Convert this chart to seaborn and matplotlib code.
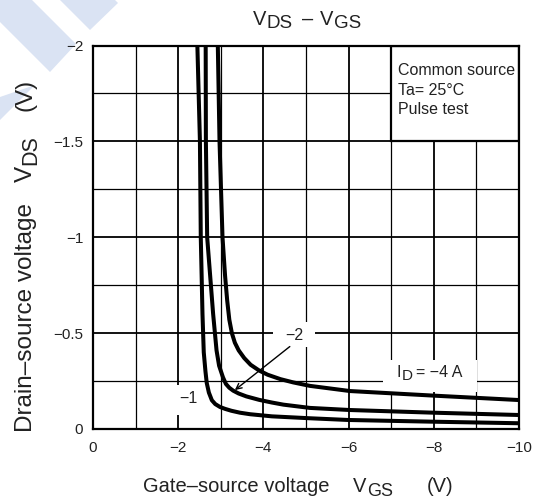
import numpy as np
import pandas as pd
import matplotlib
matplotlib.use("Agg")
import matplotlib.pyplot as plt
from matplotlib.patches import Polygon, Rectangle
from matplotlib.ticker import MultipleLocator
import seaborn as sns

# V_DS - V_GS characteristics, one curve per drain current
vgs_id1 = [-2.45, -2.51, -2.53, -2.57, -2.60, -2.64, -2.67, -2.72, -2.79, -2.87, -2.98,
           -3.10, -3.25, -3.45, -3.69, -4.20, -5.09, -6.00, -8.00, -10.0]
vds_id1 = [-2.00, -1.50, -1.00, -0.60, -0.40, -0.30, -0.24, -0.19, -0.15, -0.13, -0.115,
           -0.105, -0.095, -0.085, -0.077, -0.066, -0.056, -0.047, -0.038, -0.030]

vgs_id2 = [-2.645, -2.65, -2.68, -2.82, -2.90, -2.96, -3.05, -3.12, -3.20, -3.29, -3.42,
           -3.60, -3.90, -4.20, -4.47, -5.09, -6.03, -8.00, -10.0]
vds_id2 = [-2.00, -1.50, -1.00, -0.60, -0.41, -0.33, -0.27, -0.235, -0.215, -0.20, -0.185,
           -0.17, -0.152, -0.138, -0.127, -0.110, -0.099, -0.085, -0.073]

vgs_id4 = [-2.93, -2.97, -3.04, -3.10, -3.15, -3.20, -3.26, -3.33, -3.42, -3.55, -3.70,
           -3.90, -4.10, -4.40, -4.70, -5.09, -6.03, -8.00, -10.0]
vds_id4 = [-2.00, -1.50, -1.00, -0.80, -0.67, -0.57, -0.50, -0.45, -0.41, -0.37, -0.335,
           -0.305, -0.283, -0.260, -0.243, -0.225, -0.198, -0.174, -0.151]

drain_currents = ["-1", "-2", "-4"]
x_ticks = [0, -2, -4, -6, -8, -10]
x_tick_labels = ["0", "\u22122", "\u22124", "\u22126", "\u22128", "\u221210"]
y_ticks = [0, -0.5, -1, -1.5, -2]
y_tick_labels = ["0", "\u22120.5", "\u22121", "\u22121.5", "\u22122"]

frames = []
for cur, xs, ys in zip(drain_currents,
                       [vgs_id1, vgs_id2, vgs_id4],
                       [vds_id1, vds_id2, vds_id4]):
    frames.append(pd.DataFrame({"VGS": xs, "VDS": ys, "ID": cur}))
df = pd.concat(frames, ignore_index=True)

sns.set_style("white")
plt.rcParams["font.family"] = ["Liberation Sans", "DejaVu Sans"]

INK = "#222222"
W, H = 538, 500
fig = plt.figure(figsize=(W / 100, H / 100), dpi=100)
fig.patch.set_facecolor("white")
renderer = fig.canvas.get_renderer()


def fx(px):
    return px / W


def fy(py):
    return 1 - py / H


def sub_label(x, y, main, sub, size, sub_size, drop, rotation=0):
    """Write `main` followed by a lowered `sub`, starting at pixel (x, y) on the baseline."""
    if rotation == 0:
        t = fig.text(fx(x), fy(y), main, fontsize=size, ha="left", va="baseline",
                     color=INK)
        w = t.get_window_extent(renderer).width
        fig.text(fx(x + w + 0.5), fy(y + drop), sub, fontsize=sub_size, ha="left",
                 va="baseline", color=INK)
    else:
        t = fig.text(fx(x), fy(y), main, fontsize=size, ha="left", va="baseline",
                     rotation=90, rotation_mode="anchor", color=INK)
        h = t.get_window_extent(renderer).height
        fig.text(fx(x + drop), fy(y - h - 0.5), sub, fontsize=sub_size, ha="left",
                 va="baseline", rotation=90, rotation_mode="anchor", color=INK)


# light blue decorative stripes in the upper-left corner
stripe_color = "#dae3f3"
for pts in ([(0, 0), (32, 0), (76, 44), (50, 72), (0, 22)],
            [(60, 0), (115, 0), (118, 3), (90, 30)],
            [(0, 97), (35, 85), (0, 120)]):
    fig.add_artist(Polygon([(fx(x), fy(y)) for x, y in pts], closed=True,
                           transform=fig.transFigure, facecolor=stripe_color,
                           edgecolor="none", zorder=0))

ax = fig.add_axes([fx(93), fy(429), fx(519) - fx(93), fy(45.5) - fy(429)])
ax.set_facecolor("white")

sns.lineplot(data=df, x="VGS", y="VDS", hue="ID", palette=["black"] * 3,
             sort=False, estimator=None, legend=False, ax=ax,
             linewidth=2.9, zorder=3)
for ln in ax.get_lines():
    ln.set_solid_capstyle("butt")
    ln.set_solid_joinstyle("round")

ax.set_xlim(0, -10)
ax.set_ylim(0, -2)
ax.xaxis.set_minor_locator(MultipleLocator(1))
ax.yaxis.set_minor_locator(MultipleLocator(0.25))
ax.set_xticks(x_ticks)
ax.set_xticklabels(x_tick_labels)
ax.set_yticks(y_ticks)
ax.set_yticklabels(y_tick_labels)
ax.set_axisbelow(True)
ax.grid(which="major", color="black", linewidth=1.3)
ax.grid(which="minor", color="black", linewidth=0.9)
ax.tick_params(which="major", length=2, width=1, color="black",
               labelsize=11, labelcolor=INK)
ax.tick_params(axis="x", which="major", length=0, pad=9)
ax.tick_params(axis="y", which="major", pad=5)
ax.tick_params(which="minor", length=0)
for sp in ax.spines.values():
    sp.set_visible(True)
    sp.set_color("black")
    sp.set_linewidth(1.6)
ax.set_xlabel("")
ax.set_ylabel("")

# condition box in the upper-right cell block
ax.add_patch(Rectangle((-7, -2), -3, 0.5, facecolor="white", edgecolor="black",
                       linewidth=1.6, zorder=2.5))
for txt, yv in (("Common source", -1.872), ("Ta= 25\u00b0C", -1.763),
                ("Pulse test", -1.664)):
    ax.text(-7.16, yv, txt, ha="left", va="center", fontsize=11.5,
            color=INK, zorder=4)

# white patches that clear the grid behind the curve labels
for x0, x1, y0, y1 in ((-1.95, -2.50, -0.073, -0.229),
                       (-4.23, -5.21, -0.428, -0.558),
                       (-6.81, -9.01, -0.193, -0.360)):
    ax.add_patch(Rectangle((x0, y0), x1 - x0, y1 - y0, facecolor="white",
                           edgecolor="none", zorder=1.5))

ax.text(-2.25, -0.157, "\u22121", ha="center", va="center", fontsize=11.5,
        color=INK, zorder=2)
ax.text(-4.72, -0.49, "\u22122", ha="center", va="center", fontsize=11.5,
        color=INK, zorder=2)
sub_label(397, 377, "I", "D", 11.5, 11, 3)
fig.text(fx(416), fy(377), "= \u22124 A", fontsize=11.5, ha="left",
         va="baseline", color=INK)
ax.annotate("", xy=(-3.33, -0.203), xytext=(-4.62, -0.43),
            arrowprops=dict(arrowstyle="->", lw=1.0, color="black",
                            shrinkA=0, shrinkB=0), zorder=4)

# title
sub_label(253, 25, "V", "DS", 14.5, 13.5, 3.5)
fig.text(fx(307.5), fy(25), "\u2013", fontsize=14.5, ha="center", va="baseline",
         color=INK)
sub_label(320, 25, "V", "GS", 14.5, 13.5, 3.5)

# x caption
fig.text(fx(143), fy(492), "Gate\u2013source voltage", ha="left", va="baseline",
         fontsize=14.5, color=INK)
sub_label(353, 492, "V", "GS", 14.5, 13, 3.5)
fig.text(fx(427), fy(492), "(V)", ha="left", va="baseline", fontsize=14.5,
         color=INK)

# y caption, read bottom to top
fig.text(fx(32), fy(432), "Drain\u2013source voltage", ha="left", va="baseline",
         rotation=90, rotation_mode="anchor", fontsize=17.5, color=INK)
sub_label(32, 182, "V", "DS", 17.5, 15.5, 4, rotation=90)
fig.text(fx(32), fy(111), "(V)", ha="left", va="baseline", rotation=90,
         rotation_mode="anchor", fontsize=17.5, color=INK)

fig.savefig("out.png", dpi=100)
